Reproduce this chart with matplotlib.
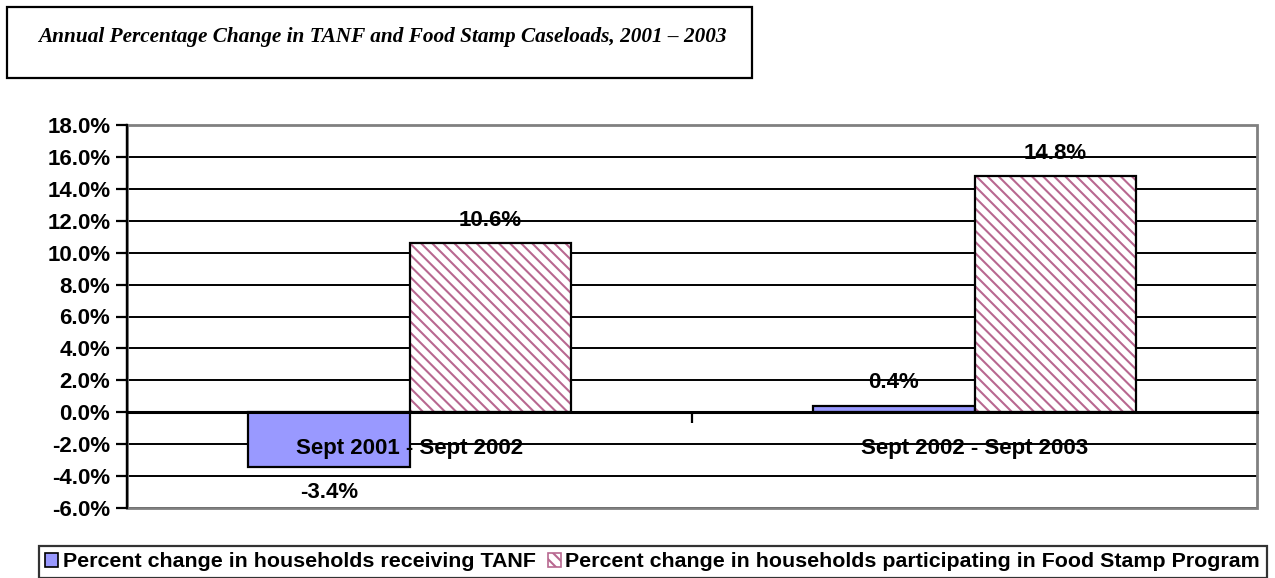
import matplotlib
matplotlib.use("Agg")
import matplotlib.pyplot as plt
import matplotlib.patches as mpatches
import numpy as np

# ---- data ----
categories = ["Sept 2001 - Sept 2002", "Sept 2002 - Sept 2003"]
tanf_change = [-3.4, 0.4]
food_stamp_change = [10.6, 14.8]
series_labels = ["Percent change in households receiving TANF",
                 "Percent change in households participating in Food Stamp Program"]
title_text = "Annual Percentage Change in TANF and Food Stamp Caseloads, 2001 \u2013 2003"
y_ticks = list(range(-6, 19, 2))

W, H = 1275, 578
plt.rcParams['font.family'] = ['Liberation Sans', 'DejaVu Sans']
plt.rcParams['hatch.linewidth'] = 1.5

fig = plt.figure(figsize=(W / 100, H / 100), dpi=100)
fig.patch.set_facecolor('white')

# plot area
left, right, top, bottom = 127, 1257, 125, 508
ax = fig.add_axes([left / W, 1 - bottom / H, (right - left) / W, (bottom - top) / H])

x = np.arange(len(categories))
bw = 0.285
tanf_color = '#9999FF'
hatch_color = '#B86890'
FS = 16

ax.bar(x - bw / 2, tanf_change, width=bw, color=tanf_color, edgecolor='black',
       linewidth=1.6, zorder=3)
ax.bar(x + bw / 2, food_stamp_change, width=bw, color='white', edgecolor=hatch_color,
       hatch='\\\\\\', linewidth=0, zorder=3)
ax.bar(x + bw / 2, food_stamp_change, width=bw, color='none', edgecolor='black',
       linewidth=1.6, zorder=4)

ax.set_xlim(-0.5, 1.5)
ax.set_ylim(-6, 18)
ax.set_yticks(y_ticks)
ax.set_yticklabels([f"{v:.1f}%" for v in y_ticks], fontsize=FS, fontweight='bold')
ax.tick_params(axis='y', length=8, width=1.6, color='black', pad=4)

# gridlines
ax.yaxis.grid(True, color='black', linewidth=1.4)
ax.set_axisbelow(True)

# x axis at zero
ax.spines['bottom'].set_position(('data', 0))
ax.spines['bottom'].set_linewidth(2.2)
ax.spines['bottom'].set_color('black')
ax.spines['bottom'].set_zorder(5)
ax.set_xticks(x)
ax.set_xticklabels([])
ax.tick_params(axis='x', which='major', length=0)
ax.set_xticks([0.5], minor=True)
ax.tick_params(axis='x', which='minor', length=8, width=1.6, direction='out', color='black')

# category labels (drawn above the bars, as in the original)
for xi, cat in zip(x, categories):
    ax.annotate(cat, (xi, 0), xytext=(0, -26), textcoords='offset points',
                ha='center', va='center', fontsize=FS, fontweight='bold', zorder=8)

ax.spines['left'].set_linewidth(1.6)
ax.spines['left'].set_color('black')
for s in ['top', 'right']:
    ax.spines[s].set_visible(False)
frame = mpatches.Rectangle((0, 0), 1, 1, transform=ax.transAxes, fill=False,
                           edgecolor='#808080', linewidth=2, clip_on=False, zorder=4.5)
ax.add_patch(frame)
ax.plot([0, 0], [0, 1], transform=ax.transAxes, color='black', lw=1.6, zorder=5, clip_on=False)

# value labels
for xs, vals in ((x - bw / 2, tanf_change), (x + bw / 2, food_stamp_change)):
    for xi, v in zip(xs, vals):
        off = 16.5 if v >= 0 else -19
        ax.annotate(f"{v:.1f}%", (xi, v), xytext=(0, off), textcoords='offset points',
                    ha='center', va='center', fontsize=FS, fontweight='bold', zorder=7)

# title box
tb = mpatches.Rectangle((7 / W, 1 - 78 / H), (752 - 7) / W, (78 - 7) / H,
                        transform=fig.transFigure, fill=False, edgecolor='black', linewidth=1.6)
fig.patches.append(tb)
fig.text(38 / W, 1 - 37 / H, title_text, fontsize=15.3, fontweight='bold', fontstyle='italic',
         family=['Liberation Serif', 'DejaVu Serif'], ha='left', va='center')

# legend
handles = [mpatches.Patch(facecolor=tanf_color, edgecolor='black', linewidth=1.2),
           mpatches.Patch(facecolor='white', edgecolor=hatch_color, hatch='\\\\\\', linewidth=1.2)]
leg = fig.legend(handles, series_labels, loc='upper left',
                 bbox_to_anchor=(39 / W, 1 - 546 / H), ncol=2, frameon=True,
                 fancybox=False, edgecolor='black', prop={'weight': 'bold', 'size': 15.4},
                 handlelength=0.6, handleheight=0.6, handletextpad=0.2, columnspacing=0.6,
                 borderpad=0.3, borderaxespad=0)
leg.get_frame().set_linewidth(1.6)

fig.savefig('out.png', dpi=100, facecolor='white')
